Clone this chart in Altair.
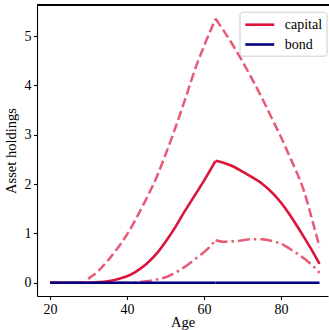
import altair as alt
import pandas as pd

ages = [20, 25, 29, 30, 32, 35, 38, 40, 42, 45, 48, 50, 52, 55, 58, 60, 63,
        65, 68, 70, 72, 75, 78, 80, 82, 84, 86, 88, 90]
capital_mean = [0, 0, 0, 0, 0.01, 0.03, 0.08, 0.13, 0.21, 0.38, 0.62, 0.83, 1.06, 1.45,
                1.82, 2.07, 2.47, 2.43, 2.34, 2.25, 2.16, 2.01, 1.8, 1.62, 1.41, 1.17,
                0.92, 0.66, 0.38]
capital_upper = [0, 0, 0, 0.08, 0.2, 0.45, 0.75, 0.98, 1.25, 1.7, 2.2, 2.6, 3.02, 3.7,
                 4.4, 4.8, 5.35, 5.12, 4.75, 4.48, 4.2, 3.75, 3.27, 2.95, 2.6, 2.25,
                 1.85, 1.3, 0.72]
capital_lower = [0, 0, 0, 0, 0, 0, 0, 0, 0.005, 0.03, 0.07, 0.11, 0.18, 0.32, 0.5, 0.62,
                 0.86, 0.83, 0.84, 0.86, 0.88, 0.88, 0.84, 0.79, 0.7, 0.6, 0.49, 0.36, 0.2]
bond_mean = [0] * len(ages)
series_names = ["capital", "bond"]
retire_age = 63


def split(age_list, *cols):
    """Duplicate the retirement-age point so that each phase is its own segment."""
    rows = []
    for i, a in enumerate(age_list):
        vals = [c[i] for c in cols]
        if a <= retire_age:
            rows.append([a, 0] + vals)
        if a >= retire_age:
            rows.append([a, 1] + vals)
    return rows


band = pd.DataFrame(split(ages, capital_upper, capital_lower),
                    columns=["Age", "seg", "upper", "lower"])
m_rows = split(ages, capital_mean, bond_mean)
main = pd.DataFrame(
    [[r[0], r[1], r[2], "capital"] for r in m_rows] + [[r[0], r[1], r[3], "bond"] for r in m_rows],
    columns=["Age", "seg", "value", "series"],
)

FONT = "Liberation Serif"
W, H = 291, 291

xscale = alt.Scale(domain=[16.6, 92.2], nice=False, zero=False)
yscale = alt.Scale(domain=[-0.27, 5.63], nice=False, zero=False)

xaxis = alt.Axis(values=[20, 40, 60, 80], title="Age", grid=False, tickSize=3.5,
                 labelPadding=3, titlePadding=-1, domainColor="black", tickColor="black")
yaxis = alt.Axis(values=[0, 1, 2, 3, 4, 5], title="Asset holdings", grid=False,
                 tickSize=3.5, labelPadding=2.5, titlePadding=6,
                 domainColor="black", tickColor="black")

upper = alt.Chart(band).mark_line(
    color="#DC143C", opacity=0.7, strokeWidth=2.5, strokeDash=[9.25, 4], interpolate="monotone"
).encode(x=alt.X("Age:Q", scale=xscale, axis=xaxis),
         y=alt.Y("upper:Q", scale=yscale, axis=yaxis), detail="seg:N")

lower = alt.Chart(band).mark_line(
    color="#DC143C", opacity=0.7, strokeWidth=2.5, strokeDash=[12, 4, 2.5, 4], interpolate="monotone"
).encode(x=alt.X("Age:Q", scale=xscale), y=alt.Y("lower:Q", scale=yscale), detail="seg:N")

lines = alt.Chart(main).mark_line(strokeWidth=2.6, interpolate="monotone").encode(
    x=alt.X("Age:Q", scale=xscale),
    y=alt.Y("value:Q", scale=yscale),
    detail="seg:N",
    color=alt.Color(
        "series:N",
        scale=alt.Scale(domain=series_names, range=["#DC143C", "#000080"]),
        legend=alt.Legend(
            title=None, orient="none", legendX=202.5, legendY=6.7,
            symbolType="M-2,0L2,0", symbolSize=210, symbolStrokeWidth=2.6,
            symbolOffset=7.25,
            labelFont=FONT, labelFontSize=14, labelColor="black",
            labelOffset=16, rowPadding=3.8, padding=4,
            strokeColor="#cccccc", fillColor="white", cornerRadius=3,
        ),
    ),
    order=alt.Order("order:Q"),
).transform_calculate(order="datum.series == 'bond' ? 1 : 0")

top_spine = alt.Chart(band).mark_rule(color="black", strokeWidth=1).encode(
    x=alt.value(0), x2=alt.value(W + 5), y=alt.value(0)
)

chart = alt.layer(upper, lower, lines, top_spine).properties(
    width=W, height=H,
    autosize=alt.AutoSizeParams(type="none"),
    padding={"left": 37, "top": 5, "right": 1, "bottom": 34},
).configure_view(stroke=None).configure_axis(
    labelFont=FONT, labelFontSize=14, labelColor="black",
    titleFont=FONT, titleFontSize=14.5, titleFontWeight="normal", titleColor="black",
    domainWidth=1.1, tickWidth=1.1,
)

chart.save("out.html", embed_options={"renderer": "svg", "actions": False})
